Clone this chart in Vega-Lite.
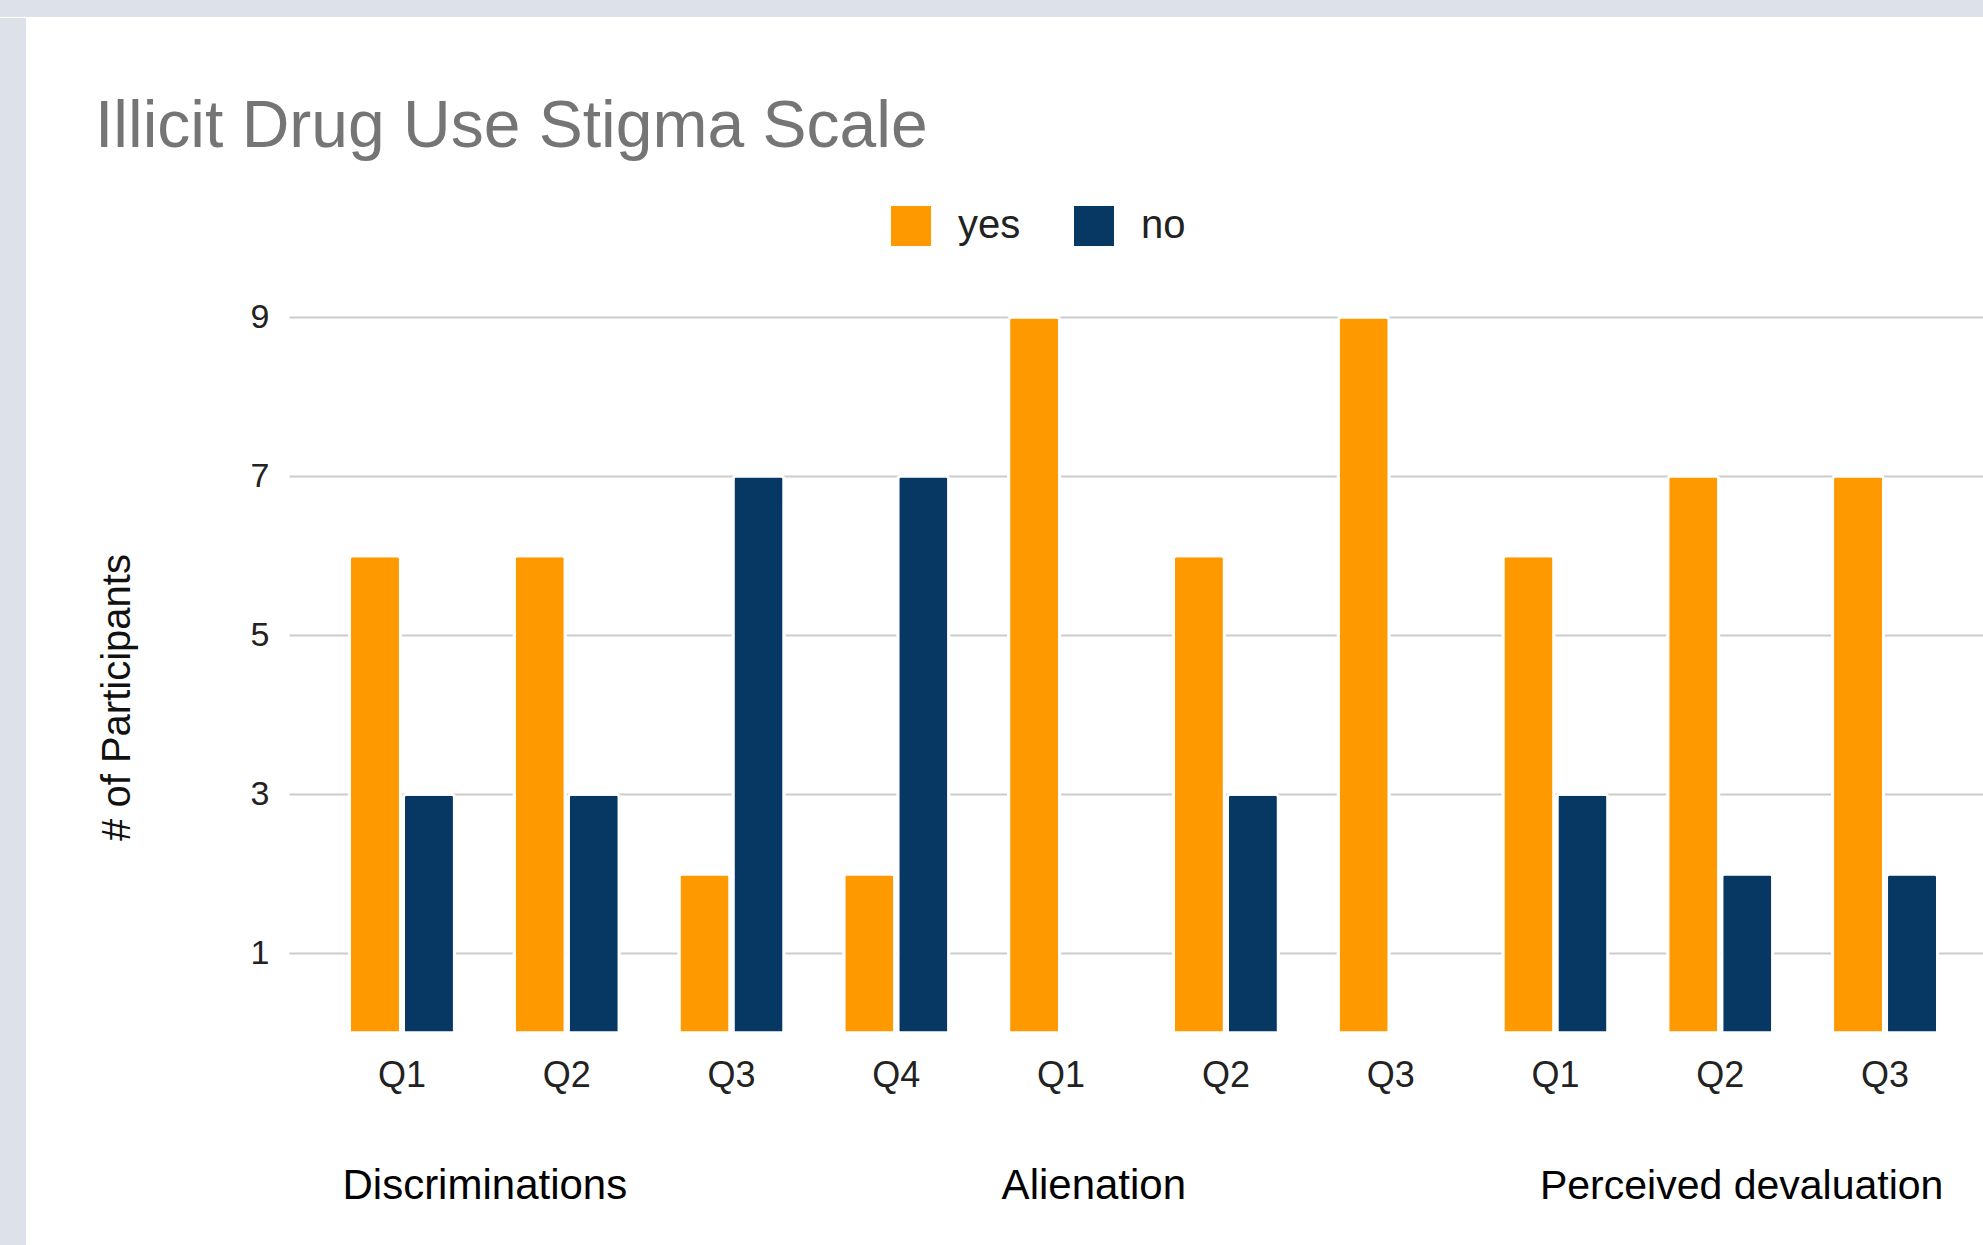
{
  "$schema": "https://vega.github.io/schema/vega-lite/v6.json",
  "background": "white",
  "padding": 0,
  "spacing": 0,
  "config": {
    "view": {"stroke": null},
    "font": "Liberation Sans"
  },
  "resolve": {"scale": {"color": "independent"}, "legend": {"color": "independent"}},
  "datasets": {
    "bars": [
      {"group": "Discriminations", "q": "Q1", "cat": "Discriminations|Q1", "answer": "yes", "count": 6},
      {"group": "Discriminations", "q": "Q1", "cat": "Discriminations|Q1", "answer": "no", "count": 3},
      {"group": "Discriminations", "q": "Q2", "cat": "Discriminations|Q2", "answer": "yes", "count": 6},
      {"group": "Discriminations", "q": "Q2", "cat": "Discriminations|Q2", "answer": "no", "count": 3},
      {"group": "Discriminations", "q": "Q3", "cat": "Discriminations|Q3", "answer": "yes", "count": 2},
      {"group": "Discriminations", "q": "Q3", "cat": "Discriminations|Q3", "answer": "no", "count": 7},
      {"group": "Discriminations", "q": "Q4", "cat": "Discriminations|Q4", "answer": "yes", "count": 2},
      {"group": "Discriminations", "q": "Q4", "cat": "Discriminations|Q4", "answer": "no", "count": 7},
      {"group": "Alienation", "q": "Q1", "cat": "Alienation|Q1", "answer": "yes", "count": 9},
      {"group": "Alienation", "q": "Q1", "cat": "Alienation|Q1", "answer": "no", "count": 0},
      {"group": "Alienation", "q": "Q2", "cat": "Alienation|Q2", "answer": "yes", "count": 6},
      {"group": "Alienation", "q": "Q2", "cat": "Alienation|Q2", "answer": "no", "count": 3},
      {"group": "Alienation", "q": "Q3", "cat": "Alienation|Q3", "answer": "yes", "count": 9},
      {"group": "Alienation", "q": "Q3", "cat": "Alienation|Q3", "answer": "no", "count": 0},
      {"group": "Perceived devaluation", "q": "Q1", "cat": "Perceived devaluation|Q1", "answer": "yes", "count": 6},
      {"group": "Perceived devaluation", "q": "Q1", "cat": "Perceived devaluation|Q1", "answer": "no", "count": 3},
      {"group": "Perceived devaluation", "q": "Q2", "cat": "Perceived devaluation|Q2", "answer": "yes", "count": 7},
      {"group": "Perceived devaluation", "q": "Q2", "cat": "Perceived devaluation|Q2", "answer": "no", "count": 2},
      {"group": "Perceived devaluation", "q": "Q3", "cat": "Perceived devaluation|Q3", "answer": "yes", "count": 7},
      {"group": "Perceived devaluation", "q": "Q3", "cat": "Perceived devaluation|Q3", "answer": "no", "count": 2}
    ],
    "groupsA": [
      {"group": "Discriminations", "cat": "Discriminations|Q1"},
      {"group": "Alienation", "cat": "Alienation|Q1"}
    ],
    "groupsB": [
      {"group": "Perceived devaluation", "cat": "Perceived devaluation|Q1"}
    ],
    "empty": []
  },
  "vconcat": [
    {
      "width": 2100,
      "height": 17,
      "view": {"fill": "#dde1ea", "stroke": null},
      "data": {"name": "empty"},
      "mark": {"type": "point"},
      "encoding": {}
    },
    {
      "spacing": 69,
      "resolve": {"scale": {"color": "independent"}, "legend": {"color": "independent"}},
      "hconcat": [
        {
          "width": 26,
          "height": 1300,
          "view": {"fill": "#dde1ea", "stroke": null},
          "data": {"name": "empty"},
          "mark": {"type": "rect"},
          "encoding": {
            "color": {
              "datum": 0,
              "type": "quantitative",
              "scale": {"domain": [0, 1], "range": ["#dde1ea", "#dde1ea"]},
              "legend": {
                "orient": "none",
                "legendX": 0,
                "legendY": -299,
                "direction": "vertical",
                "gradientLength": 310,
                "gradientThickness": 26,
                "gradientStrokeWidth": 0,
                "labelExpr": "''",
                "labelFontSize": 0,
                "labelOffset": 0,
                "title": null,
                "padding": 0
              }
            }
          }
        },
        {
          "width": 1709,
          "height": 716,
          "title": {
            "text": ["", "Illicit Drug Use Stigma Scale"],
            "anchor": "start",
            "frame": "bounds",
            "font": "Liberation Sans",
            "fontSize": 66,
            "fontWeight": "normal",
            "color": "#757575",
            "lineHeight": 77,
            "offset": 45,
            "dx": -2
          },
          "layer": [
            {
              "data": {"name": "bars"},
              "mark": {"type": "bar", "stroke": "white", "strokeWidth": 3, "cornerRadiusTopLeft": 3, "cornerRadiusTopRight": 3},
              "encoding": {
                "x": {
                  "field": "cat",
                  "type": "nominal",
                  "scale": {
                    "domain": ["Discriminations|Q1", "Discriminations|Q2", "Discriminations|Q3", "Discriminations|Q4", "Alienation|Q1", "Alienation|Q2", "Alienation|Q3", "Perceived devaluation|Q1", "Perceived devaluation|Q2", "Perceived devaluation|Q3"],
                    "paddingInner": 0.3629,
                    "paddingOuter": 0.367
                  },
                  "axis": {
                    "title": null,
                    "labelExpr": "split(datum.value, '|')[1]",
                    "labelAngle": 0,
                    "ticks": false,
                    "tickSize": 0,
                    "domain": false,
                    "grid": false,
                    "labelPadding": 25,
                    "labelFontSize": 36,
                    "labelFont": "Liberation Sans",
                    "labelColor": "#222222"
                  }
                },
                "xOffset": {
                  "field": "answer",
                  "type": "nominal",
                  "sort": ["yes", "no"],
                  "scale": {"paddingInner": 0.0556, "paddingOuter": 0}
                },
                "y": {
                  "field": "count",
                  "type": "quantitative",
                  "scale": {"domain": [0, 9], "nice": false, "zero": true},
                  "axis": {
                    "values": [1, 3, 5, 7, 9],
                    "format": "d",
                    "grid": true,
                    "gridColor": "#cccccc",
                    "gridWidth": 2,
                    "domain": false,
                    "ticks": false,
                    "tickSize": 0,
                    "labelPadding": 20,
                    "labelFontSize": 34,
                    "labelFont": "Liberation Sans",
                    "labelColor": "#222222",
                    "title": "# of Participants",
                    "titleFont": "Liberation Sans",
                    "titleFontSize": 40,
                    "titleFontWeight": "normal",
                    "titleColor": "#111111",
                    "titleAngle": -90,
                    "titleAlign": "center",
                    "titleBaseline": "alphabetic",
                    "titleX": -160,
                    "titleY": 380
                  }
                },
                "color": {
                  "field": "answer",
                  "type": "nominal",
                  "scale": {"domain": ["yes", "no"], "range": ["#ff9900", "#073763"]},
                  "legend": {
                    "title": null,
                    "orient": "none",
                    "direction": "horizontal",
                    "legendX": 602,
                    "legendY": -111,
                    "padding": 0,
                    "symbolType": "square",
                    "symbolSize": 1600,
                    "symbolStrokeWidth": 0,
                    "labelFontSize": 40,
                    "labelFont": "Liberation Sans",
                    "labelColor": "#222222",
                    "labelOffset": 27,
                    "columnPadding": 53
                  }
                }
              }
            },
            {
              "data": {"name": "groupsA"},
              "mark": {"type": "text", "align": "left", "baseline": "alphabetic", "dx": -7, "fontSize": 42, "font": "Liberation Sans", "color": "#000000"},
              "encoding": {
                "x": {"field": "cat", "type": "nominal", "bandPosition": 0},
                "y": {"datum": -2.09},
                "text": {"field": "group"}
              }
            },
            {
              "data": {"name": "groupsB"},
              "mark": {"type": "text", "align": "left", "baseline": "alphabetic", "dx": 37, "fontSize": 41, "font": "Liberation Sans", "color": "#000000"},
              "encoding": {
                "x": {"field": "cat", "type": "nominal", "bandPosition": 0},
                "y": {"datum": -2.09},
                "text": {"field": "group"}
              }
            }
          ]
        }
      ]
    }
  ]
}
